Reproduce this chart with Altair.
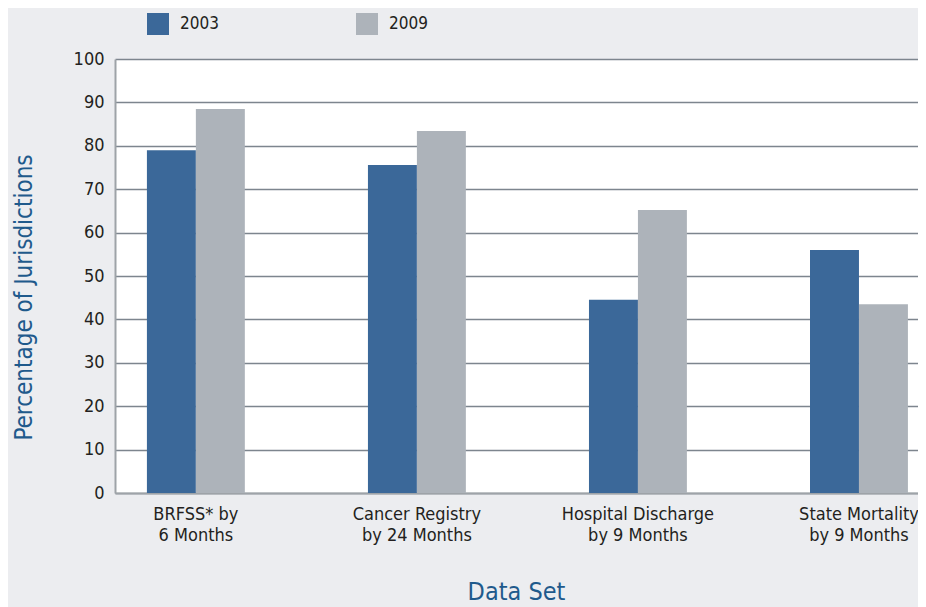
import altair as alt
import pandas as pd

categories = ["BRFSS* by\n6 Months", "Cancer Registry\nby 24 Months",
              "Hospital Discharge\nby 9 Months", "State Mortality\nby 9 Months"]
years = ["2003", "2009"]
values_2003 = [79.0, 75.6, 44.5, 56.0]
values_2009 = [88.5, 83.4, 65.2, 43.5]

rows = []
for c, a, b in zip(categories, values_2003, values_2009):
    rows.append({"cat": c, "year": "2003", "pct": a})
    rows.append({"cat": c, "year": "2009", "pct": b})
df = pd.DataFrame(rows)

FONT = "Liberation Sans Narrow, DejaVu Sans Condensed, Roboto Condensed, Open Sans, sans-serif"
TXT = "#231f20"
BLUE_T = "#1f5a8c"

chart = alt.Chart(df).mark_bar().encode(
    x=alt.X("cat:N", sort=categories,
            scale=alt.Scale(paddingInner=0.557, paddingOuter=0.095, align=0.76),
            axis=alt.Axis(title="Data Set", labelAngle=0,
                          labelExpr="split(datum.label, '\\n')",
                          labelFont=FONT, labelFontSize=18, labelColor=TXT,
                          labelLineHeight=21, labelPadding=12,
                          ticks=False, domainColor="#9ea3a8", domainWidth=2,
                          titleFont=FONT, titleFontSize=25, titleFontWeight="normal",
                          titleColor=BLUE_T, titleX=401, titleY=106,
                          titleBaseline="alphabetic", titleAlign="center")),
    xOffset=alt.XOffset("year:N", sort=years,
                        scale=alt.Scale(paddingInner=0, paddingOuter=0)),
    y=alt.Y("pct:Q", scale=alt.Scale(domain=[0, 100], nice=False),
            axis=alt.Axis(title="Percentage of Jurisdictions",
                          values=list(range(0, 101, 10)),
                          labelFont=FONT, labelFontSize=18, labelColor=TXT,
                          labelPadding=11, ticks=False,
                          domainColor="#9ea3a8", domainWidth=2,
                          grid=True, gridColor="#7d858e", gridWidth=1.5,
                          titleFont=FONT, titleFontSize=24, titleFontWeight="normal",
                          titleColor=BLUE_T, titleX=-84, titleY=238,
                          titleAngle=270, titleBaseline="alphabetic",
                          titleAlign="center")),
    color=alt.Color("year:N", sort=years,
                    scale=alt.Scale(domain=years, range=["#3b6899", "#adb3ba"]),
                    legend=alt.Legend(title=None, orient="none", legendX=32, legendY=-46,
                                      direction="horizontal", symbolType="square",
                                      symbolSize=484, symbolStrokeWidth=0,
                                      symbolOpacity=1, labelOffset=11,
                                      labelFont=FONT, labelFontSize=17, labelColor=TXT,
                                      columnPadding=137, padding=0, gridAlign="all")),
).properties(
    width=803, height=434,
    autosize=alt.AutoSizeParams(type="none"),
    padding={"left": 107, "top": 51, "right": 0, "bottom": 114},
    background="#ecedf0",
).configure_view(fill="white", stroke=None)

chart.save("out.html", embed_options={"renderer": "svg", "actions": False})
